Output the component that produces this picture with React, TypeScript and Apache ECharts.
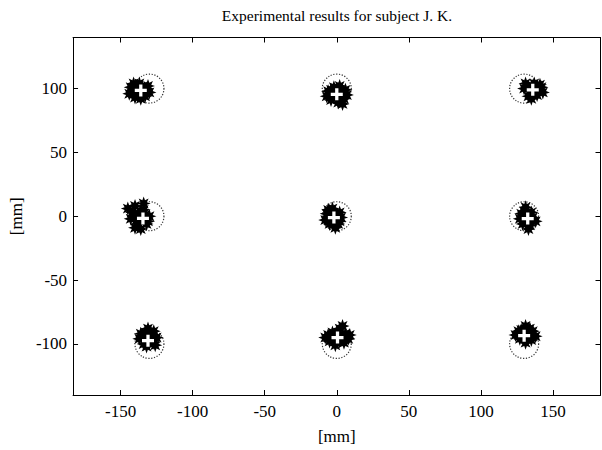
import React, { useEffect, useRef } from "react";
import * as echarts from "echarts";

const title = "Experimental results for subject J. K.";
const xTicks = [-150, -100, -50, 0, 50, 100, 150];
const yTicks = [-100, -50, 0, 50, 100];

const targets: [number, number][] = [
  [-130, 100], [0, 100], [130, 100],
  [-130, 0], [0, 0], [130, 0],
  [-130, -100], [0, -100], [130, -100],
];

const clusterTL: [number, number][] = [[-137,98],[-143,101],[-131,102],[-140,93],[-133,94],[-144,96],[-130,97],[-137,104],[-136,92],[-141,104],[-132,100],[-139,97],[-135,101],[-140,99],[-134,96],[-138,95]];
const clusterTM: [number, number][] = [[0,96],[-6,98],[6,99],[-4,91],[5,92],[-7,94],[2,102],[-2,101],[7,95],[1,89],[4,88],[-3,96],[3,97],[-1,93],[2,92],[-4,99]];
const clusterTR: [number, number][] = [[136,99],[130,100],[142,101],[133,94],[139,95],[131,104],[137,104],[143,97],[135,92],[141,103],[134,98],[139,99],[137,96],[133,101],[140,98],[136,102]];
const clusterML: [number, number][] = [[-136,-1],[-142,3],[-140,8],[-134,5],[-130,0],[-138,-6],[-132,-6],[-143,-2],[-136,-10],[-131,-4],[-140,-9],[-134,10],[-145,6],[-138,2],[-134,-3],[-139,-3],[-133,1],[-136,4]];
const clusterMM: [number, number][] = [[-2,-1],[-7,2],[2,3],[-5,-6],[1,-6],[-8,-3],[3,-1],[-3,6],[-1,-9],[-6,5],[2,-4],[-4,2],[-1,2],[-4,-3],[0,0],[-6,-1]];
const clusterMR: [number, number][] = [[132,-2],[128,2],[135,3],[129,-6],[134,-7],[127,-2],[136,-1],[131,7],[133,-10],[138,-4],[130,4],[132,-5],[131,1],[134,0],[130,-3],[133,3]];
const clusterBL: [number, number][] = [[-131,-96],[-136,-92],[-127,-90],[-134,-100],[-127,-99],[-137,-96],[-125,-95],[-131,-88],[-132,-102],[-129,-93],[-134,-95],[-126,-101],[-130,-99],[-133,-91],[-128,-96],[-132,-94]];
const clusterBM: [number, number][] = [[0,-95],[-6,-93],[6,-92],[-5,-98],[5,-99],[-8,-95],[8,-96],[2,-88],[4,-86],[-1,-101],[-3,-91],[3,-95],[9,-93],[0,-91],[-3,-96],[2,-98],[5,-94]];
const clusterBR: [number, number][] = [[131,-93],[126,-90],[136,-90],[127,-96],[135,-97],[124,-93],[138,-94],[131,-86],[131,-99],[128,-89],[134,-88],[131,-92],[129,-94],[133,-95],[130,-90],[134,-92]];

const means: [number, number][] = [
  [-136, 98.5], [0, 95.5], [136, 99],
  [-134.5, -1.7], [-2, -1], [132.5, -1.8],
  [-131, -97.5], [0.5, -95], [130, -93.5],
];

function starPath(): string {
  const parts: string[] = [];
  const n = 16;
  for (let i = 0; i < n; i++) {
    const a = (i * Math.PI) / 8 - Math.PI / 2;
    const r = i % 2 === 0 ? 10 : 5;
    const x = (10 + r * Math.cos(a)).toFixed(2);
    const y = (10 + r * Math.sin(a)).toFixed(2);
    parts.push((i === 0 ? "M" : "L") + x + "," + y);
  }
  return "path://" + parts.join("") + "Z";
}

const FONT = "Liberation Serif";

export default function App() {
  const ref = useRef<HTMLDivElement>(null);
  useEffect(() => {
    if (!ref.current) return;
    const chart = echarts.init(ref.current, null, { renderer: "svg" });
    const star = starPath();
    const allClusters = [clusterTL, clusterTM, clusterTR, clusterML, clusterMM, clusterMR, clusterBL, clusterBM, clusterBR];
    const axisLine = { show: true, onZero: false, lineStyle: { color: "#000", width: 1 } };
    const labelStyle = { fontFamily: FONT, fontSize: 17, color: "#000" };
    chart.setOption({
      animation: false,
      backgroundColor: "#fff",
      textStyle: labelStyle,
      graphic: [
        {
          type: "text",
          x: 337,
          y: 15,
          style: { text: title, font: `15.5px ${FONT}`, fill: "#000", textAlign: "center", textVerticalAlign: "middle" },
        },
      ],
      grid: { left: 71.5, right: 1.5, top: 37.5, height: 368, containLabel: false },
      xAxis: [
        {
          type: "value", min: -183, max: 183, position: "bottom",
          axisLine, splitLine: { show: false },
          axisTick: { show: true, inside: true, length: 5, lineStyle: { color: "#000" }, customValues: xTicks },
          axisLabel: { show: true, customValues: xTicks, margin: 8, ...labelStyle },
          name: "[mm]", nameLocation: "middle", nameGap: 33,
          nameTextStyle: labelStyle,
        },
        {
          type: "value", min: -183, max: 183, position: "top",
          axisLine, splitLine: { show: false },
          axisTick: { show: true, inside: true, length: 5, lineStyle: { color: "#000" }, customValues: xTicks },
          axisLabel: { show: false },
        },
      ],
      yAxis: [
        {
          type: "value", min: -140, max: 140, position: "left",
          axisLine, splitLine: { show: false },
          axisTick: { show: true, inside: true, length: 5, lineStyle: { color: "#000" }, customValues: yTicks },
          axisLabel: { show: true, customValues: yTicks, margin: 6, ...labelStyle },
          name: "[mm]", nameLocation: "middle", nameGap: 47, nameRotate: 90,
          nameTextStyle: labelStyle,
        },
        {
          type: "value", min: -140, max: 140, position: "right",
          axisLine, splitLine: { show: false },
          axisTick: { show: true, inside: true, length: 5, lineStyle: { color: "#000" }, customValues: yTicks },
          axisLabel: { show: false },
        },
      ],
      series: [
        {
          type: "scatter",
          data: targets,
          symbol: "circle",
          symbolSize: 29,
          itemStyle: { color: "none", borderColor: "#000", borderWidth: 1.2, borderType: [1.2, 1.6] },
          z: 1,
        },
        ...allClusters.map((c) => ({
          type: "scatter",
          data: c,
          symbol: star,
          symbolSize: 14,
          itemStyle: { color: "#000", opacity: 1 },
          z: 2,
        })),
        {
          type: "scatter",
          data: means,
          symbol: "path://M4,0H7V4H11V7H7V11H4V7H0V4H4Z",
          symbolSize: 12,
          itemStyle: { color: "#fff", opacity: 1 },
          z: 3,
        },
      ],
    });
    return () => chart.dispose();
  }, []);
  return <div ref={ref} style={{ width: 602, height: 450, position: "absolute", left: 0, top: 0 }} />;
}
